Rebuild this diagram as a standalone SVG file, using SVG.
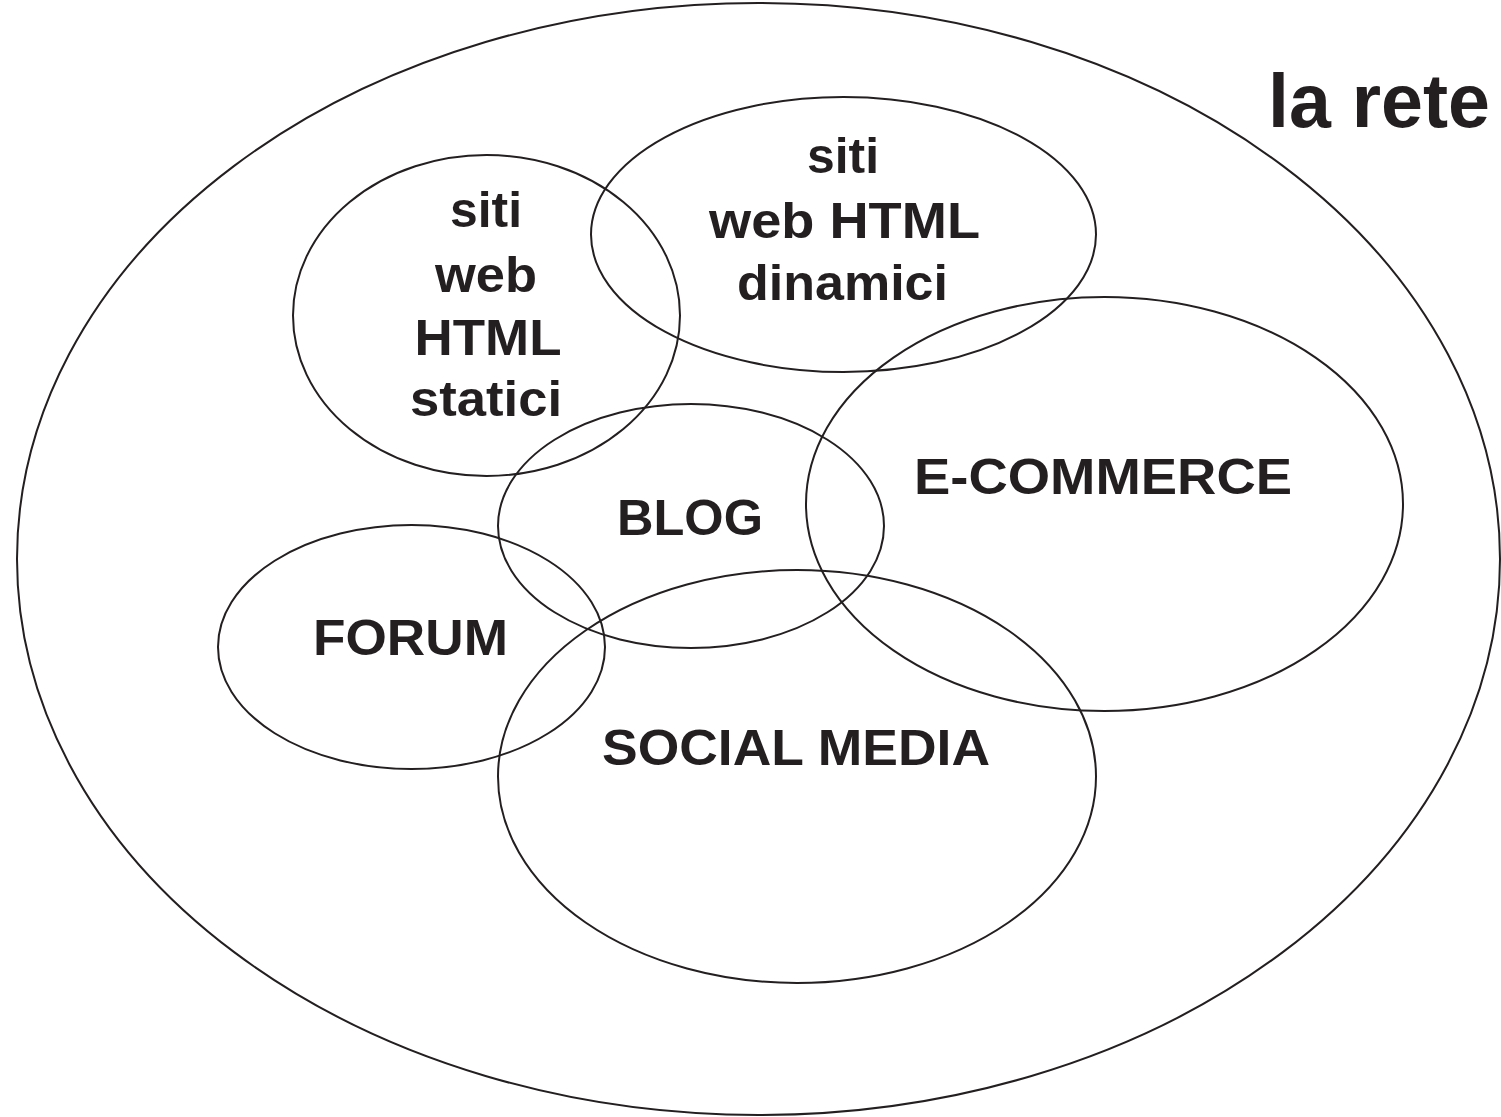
<svg xmlns="http://www.w3.org/2000/svg" width="1501" height="1117" viewBox="0 0 1501 1117">
  <style>
    .set { fill: none; stroke: #231f20; stroke-width: 2; }
    .lbl { font-family: "Liberation Sans", Arial, sans-serif; font-weight: bold; font-size: 50px; fill: #231f20; text-anchor: middle; }
    .title { font-family: "Liberation Sans", Arial, sans-serif; font-weight: bold; font-size: 76px; fill: #231f20; }
  </style>
  <rect width="1501" height="1117" fill="#ffffff"/>

  <!-- the whole network -->
  <g id="rete">
    <ellipse class="set" cx="758.5" cy="559" rx="741.5" ry="556"/>
    <text class="title" x="1268" y="127" textLength="222" lengthAdjust="spacingAndGlyphs">la rete</text>
  </g>

  <g id="statici">
    <ellipse class="set" cx="486.5" cy="315.5" rx="193.5" ry="160.5"/>
    <text class="lbl" x="486" y="227" textLength="72" lengthAdjust="spacingAndGlyphs">siti</text>
    <text class="lbl" x="486" y="292" textLength="102" lengthAdjust="spacingAndGlyphs">web</text>
    <text class="lbl" x="488" y="355" textLength="147" lengthAdjust="spacingAndGlyphs">HTML</text>
    <text class="lbl" x="486" y="416" textLength="152" lengthAdjust="spacingAndGlyphs">statici</text>
  </g>

  <g id="dinamici">
    <ellipse class="set" cx="843.5" cy="234.5" rx="252.5" ry="137.5"/>
    <text class="lbl" x="843" y="173" textLength="72" lengthAdjust="spacingAndGlyphs">siti</text>
    <text class="lbl" x="844.5" y="238" textLength="271" lengthAdjust="spacingAndGlyphs">web HTML</text>
    <text class="lbl" x="842.5" y="300" textLength="211" lengthAdjust="spacingAndGlyphs">dinamici</text>
  </g>

  <g id="ecommerce">
    <ellipse class="set" cx="1104.5" cy="504" rx="298.5" ry="207"/>
    <text class="lbl" x="1103" y="494" textLength="378" lengthAdjust="spacingAndGlyphs">E-COMMERCE</text>
  </g>

  <g id="blog">
    <ellipse class="set" cx="691" cy="526" rx="193" ry="122"/>
    <text class="lbl" x="690" y="535" textLength="146" lengthAdjust="spacingAndGlyphs">BLOG</text>
  </g>

  <g id="forum">
    <ellipse class="set" cx="411.5" cy="647" rx="193.5" ry="122"/>
    <text class="lbl" x="410.5" y="655" textLength="195" lengthAdjust="spacingAndGlyphs">FORUM</text>
  </g>

  <g id="social">
    <ellipse class="set" cx="797" cy="776.5" rx="299" ry="206.5"/>
    <text class="lbl" x="796" y="765" textLength="388" lengthAdjust="spacingAndGlyphs">SOCIAL MEDIA</text>
  </g>

  <g id="connectors"/>
</svg>
